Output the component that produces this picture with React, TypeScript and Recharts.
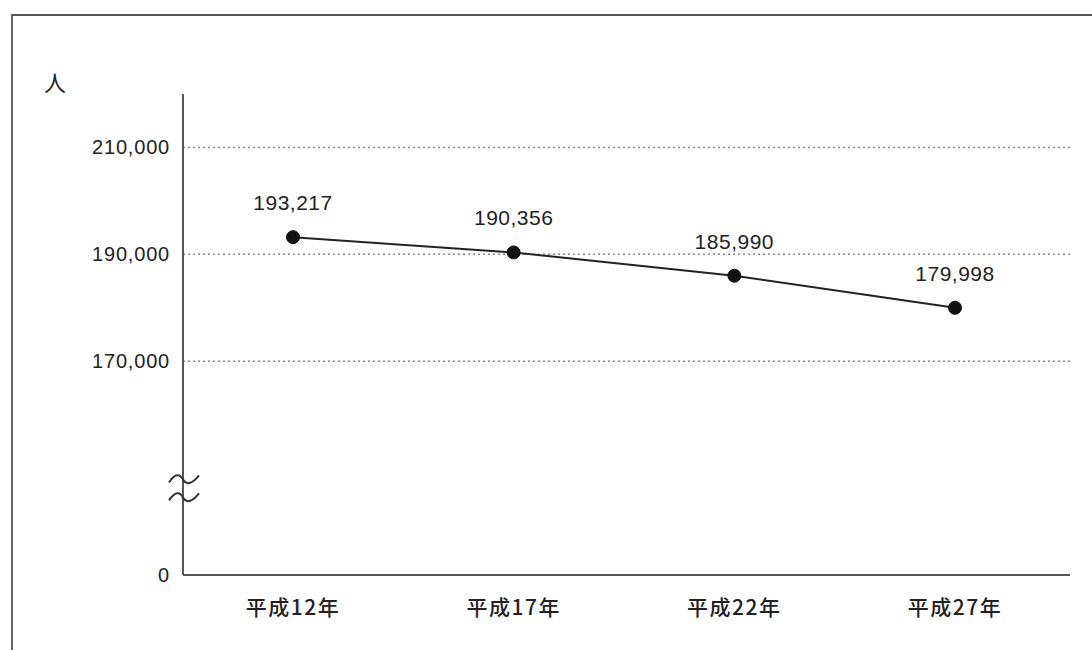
import React from 'react';
import { LineChart, Line, XAxis, YAxis, ReferenceLine, LabelList } from 'recharts';

const categories = ['平成12年', '平成17年', '平成22年', '平成27年'];
const population = [193217, 190356, 185990, 179998];
const gridValues = [170000, 190000, 210000];
const axisBase = 130000; // shown as "0" under the axis break
const breakValue = 146200;
const yTicks = [axisBase, breakValue, 170000, 190000, 210000];
const yDomain = [130000, 220000];
const yUnit = '人';

const data = categories.map((c, i) => ({ name: c, value: population[i] }));

const numFont = '"Liberation Sans", Arial, sans-serif';
const cjkFont = '"Noto Sans CJK JP", sans-serif';

const fmt = (v: number) => v.toLocaleString('en-US');

const YTick = (props: any) => {
  const { x, y, payload } = props;
  const v = payload.value;
  if (v === breakValue) {
    const ax = x + 13; // axis line position
    const wave = (yy: number) =>
      `M ${ax - 14} ${yy + 3} C ${ax - 8} ${yy - 6}, ${ax - 3} ${yy - 6}, ${ax} ${yy} S ${ax + 9} ${yy + 5}, ${ax + 16} ${yy - 4}`;
    return (
      <g>
        <path d={wave(y - 9)} stroke="#333" strokeWidth={2} fill="none" />
        <path d={wave(y + 9)} stroke="#333" strokeWidth={2} fill="none" />
      </g>
    );
  }
  const label = v === axisBase ? '0' : fmt(v);
  return (
    <text x={x} y={y} dy={7} textAnchor="end" fill="#222" fontSize={20} fontFamily={numFont} letterSpacing={0.8}>
      {label}
    </text>
  );
};

const XTick = (props: any) => {
  const { x, y, payload } = props;
  return (
    <text x={x} y={y} dy={32} textAnchor="middle" fill="#222" fontSize={21} fontWeight={500} fontFamily={cjkFont} letterSpacing={1.5}>
      {payload.value}
    </text>
  );
};

export default function App() {
  return (
    <div style={{ position: 'absolute', left: 0, top: 0, width: 1092, height: 650, background: '#fff' }}>
      <div
        style={{
          position: 'absolute',
          left: 11,
          top: 14,
          width: 1081,
          height: 636,
          borderTop: '2px solid #555',
          borderLeft: '2px solid #666',
        }}
      />
      <div style={{ position: 'absolute', left: 0, top: 0 }}>
        <LineChart width={1092} height={650} data={data} margin={{ top: 94, right: 22, bottom: 35, left: 0 }}>
          <XAxis
            dataKey="name"
            stroke="#555"
            strokeWidth={2}
            tickLine={false}
            tick={<XTick />}
            height={40}
            interval={0}
            padding={{ left: 110, right: 115 }}
          />
          <YAxis
            type="number"
            domain={yDomain}
            ticks={yTicks}
            width={183}
            stroke="#555"
            strokeWidth={2}
            tickLine={false}
            tick={<YTick />}
            tickSize={0}
            tickMargin={13}
            interval={0}
            allowDataOverflow
            label={{
              content: (p: any) => (
                <text
                  x={p.viewBox.x + 55}
                  y={p.viewBox.y - 3}
                  textAnchor="middle"
                  fontSize={22}
                  fill="#222"
                  fontFamily={cjkFont}
                >
                  {yUnit}
                </text>
              ),
            }}
          />
          {gridValues.map((g) => (
            <ReferenceLine key={g} y={g} stroke="#888" strokeWidth={1.5} strokeDasharray="2 3" />
          ))}
          <Line
            dataKey="value"
            stroke="#222"
            strokeWidth={2}
            isAnimationActive={false}
            dot={{ r: 6.5, fill: '#111', stroke: '#111', strokeWidth: 1 }}
          >
            <LabelList
              dataKey="value"
              position="top"
              offset={27}
              formatter={(v: any) => fmt(Number(v))}
              fill="#222"
              fontSize={21}
              fontFamily={numFont}
              letterSpacing={0.5}
            />
          </Line>
        </LineChart>
      </div>
    </div>
  );
}
